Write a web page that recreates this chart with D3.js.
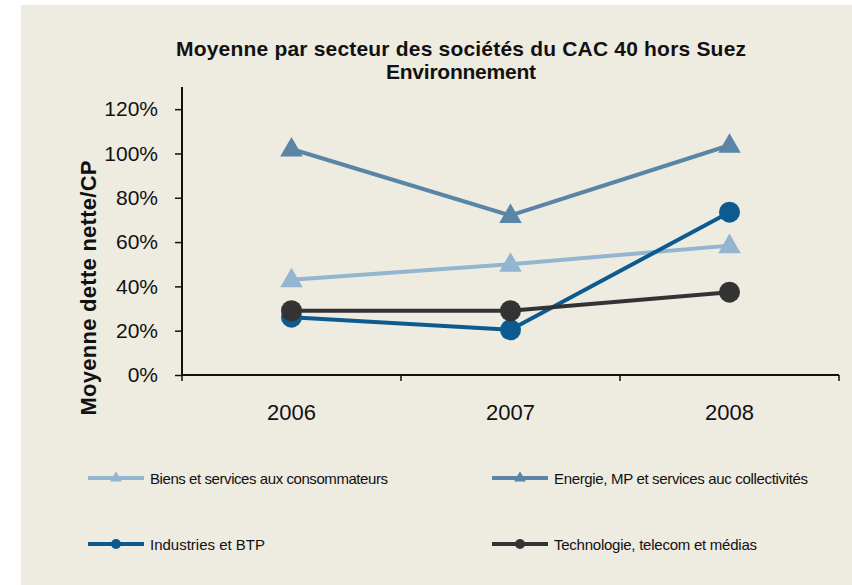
<!DOCTYPE html>
<html>
<head>
<meta charset="utf-8">
<script src="https://cdn.jsdelivr.net/npm/d3@7"></script>
<style>
  body { margin: 0; background: #fff; }
  text { font-family: "Liberation Sans", Arial, sans-serif; fill: #111; }
</style>
</head>
<body>
<svg id="chart"></svg>
<script>
const years = ["2006", "2007", "2008"];
const biens = [0.43, 0.50, 0.584];
const energie = [1.02, 0.72, 1.037];
const industries = [0.261, 0.204, 0.735];
const techno = [0.29, 0.29, 0.374];
const yTicks = [0, 0.2, 0.4, 0.6, 0.8, 1.0, 1.2];

const series = [
  { name: "Biens et services aux consommateurs", values: biens, color: "#93b5cf", marker: "triangle", w: 238 },
  { name: "Energie, MP et services auc collectivités", values: energie, color: "#5b85a7", marker: "triangle", w: 254 },
  { name: "Industries et BTP", values: industries, color: "#0d5a8f", marker: "circle", w: 115 },
  { name: "Technologie, telecom et médias", values: techno, color: "#333333", marker: "circle", w: 203 }
];

const width = 852, height = 585;
const svg = d3.select("#chart").attr("width", width).attr("height", height);

svg.append("rect")
  .attr("x", 21).attr("y", 5)
  .attr("width", width - 21).attr("height", height - 5)
  .attr("fill", "#eeebe1");

const margin = { left: 182, right: 839, top: 87, bottom: 375 };

const x = d3.scaleBand().domain(years).range([margin.left, margin.right]);
const y = d3.scaleLinear().domain([0, 1.3]).range([margin.bottom, margin.top]);

// title
const title = svg.append("text")
  .attr("text-anchor", "middle")
  .style("font-weight", "bold").style("font-size", "21px");
title.append("tspan").attr("x", 461).attr("y", 56)
  .attr("textLength", 570).attr("lengthAdjust", "spacing")
  .text("Moyenne par secteur des sociétés du CAC 40 hors Suez");
title.append("tspan").attr("x", 461).attr("y", 79)
  .attr("textLength", 150).attr("lengthAdjust", "spacing")
  .text("Environnement");

// y axis
const yAxis = svg.append("g")
  .attr("transform", "translate(" + margin.left + ",0)")
  .call(d3.axisLeft(y).tickValues(yTicks).tickFormat(d3.format(".0%")).tickSize(7).tickPadding(17));
yAxis.select(".domain").attr("stroke", "#111").attr("stroke-width", 2).attr("d", "M0," + margin.top + "V" + margin.bottom);
yAxis.selectAll(".tick line").attr("stroke", "#111").attr("stroke-width", 1.5);
yAxis.selectAll(".tick text").style("font-size", "21px").style("font-family", "Liberation Sans, Arial, sans-serif").attr("fill", "#111");

// x axis
const xAxis = svg.append("g")
  .attr("transform", "translate(0," + margin.bottom + ")")
  .call(d3.axisBottom(x).tickSize(0).tickPadding(29));
xAxis.select(".domain").attr("stroke", "#111").attr("stroke-width", 2).attr("d", "M" + margin.left + ",0H" + margin.right);
xAxis.selectAll(".tick text").style("font-size", "22px").style("font-family", "Liberation Sans, Arial, sans-serif").attr("fill", "#111");
// boundary ticks between categories
xAxis.selectAll(".bound")
  .data(years.map(d => x(d)).concat([x(years[years.length - 1]) + x.bandwidth()]))
  .join("line")
  .attr("class", "bound")
  .attr("x1", d => d).attr("x2", d => d)
  .attr("y1", 0).attr("y2", 6)
  .attr("stroke", "#111").attr("stroke-width", 1.5);

// y axis title
svg.append("text")
  .attr("transform", "translate(96,288) rotate(-90)")
  .attr("text-anchor", "middle")
  .style("font-weight", "bold").style("font-size", "22px")
  .attr("textLength", 255).attr("lengthAdjust", "spacing")
  .text("Moyenne dette nette/CP");

const cx = d => x(d) + x.bandwidth() / 2;
const line = d3.line().x((d, i) => cx(years[i])).y(d => y(d));
const triangle = d3.symbol().type(d3.symbolTriangle).size(220);

const g = svg.append("g");
series.forEach(s => {
  g.append("path")
    .attr("d", line(s.values))
    .attr("fill", "none")
    .attr("stroke", s.color)
    .attr("stroke-width", 4);
  const pts = g.selectAll(null).data(s.values).enter();
  if (s.marker === "circle") {
    pts.append("circle")
      .attr("cx", (d, i) => cx(years[i]))
      .attr("cy", d => y(d))
      .attr("r", 10.5)
      .attr("fill", s.color);
  } else {
    pts.append("path")
      .attr("d", triangle)
      .attr("transform", (d, i) => "translate(" + cx(years[i]) + "," + (y(d) + 1) + ")")
      .attr("fill", s.color);
  }
});

// legend
const legendPos = [[88, 478], [492, 478], [88, 544], [492, 544]];
const legend = svg.append("g");
series.forEach((s, i) => {
  const [lx, ly] = legendPos[i];
  const item = legend.append("g").attr("transform", "translate(" + lx + "," + ly + ")");
  item.append("line")
    .attr("x1", 0).attr("x2", 56).attr("y1", 0).attr("y2", 0)
    .attr("stroke", s.color).attr("stroke-width", 4);
  if (s.marker === "circle") {
    item.append("circle").attr("cx", 28).attr("cy", 0).attr("r", 5).attr("fill", s.color);
  } else {
    item.append("path").attr("d", d3.symbol().type(d3.symbolTriangle).size(60)).attr("transform", "translate(28,0)").attr("fill", s.color);
  }
  item.append("text")
    .attr("x", 62).attr("y", 5.5)
    .style("font-size", "15px")
    .attr("textLength", s.w).attr("lengthAdjust", "spacing")
    .text(s.name);
});
</script>
</body>
</html>
